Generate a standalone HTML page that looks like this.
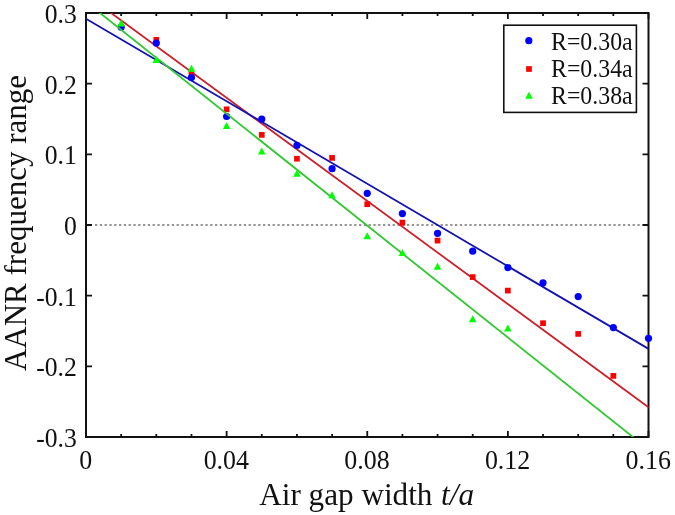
<!DOCTYPE html><html><head><meta charset="utf-8"><style>
html,body{margin:0;padding:0;background:#fff;}
body{width:675px;height:515px;overflow:hidden;}
svg{display:block;font-family:"Liberation Serif",serif;will-change:transform;}
</style></head><body>
<svg width="675" height="515" viewBox="0 0 675 515">
<rect x="0" y="0" width="675" height="515" fill="#fff"/>
<line x1="95.0" y1="225.00" x2="642.5" y2="225.00" stroke="#707070" stroke-width="1.6" stroke-dasharray="2.3 2.5"/>
<path d="M86.00 437.00v-6M86.00 13.00v6M121.16 437.00v-3M121.16 13.00v3M156.31 437.00v-3M156.31 13.00v3M191.47 437.00v-3M191.47 13.00v3M226.62 437.00v-6M226.62 13.00v6M261.78 437.00v-3M261.78 13.00v3M296.94 437.00v-3M296.94 13.00v3M332.09 437.00v-3M332.09 13.00v3M367.25 437.00v-6M367.25 13.00v6M402.41 437.00v-3M402.41 13.00v3M437.56 437.00v-3M437.56 13.00v3M472.72 437.00v-3M472.72 13.00v3M507.88 437.00v-6M507.88 13.00v6M543.03 437.00v-3M543.03 13.00v3M578.19 437.00v-3M578.19 13.00v3M613.34 437.00v-3M613.34 13.00v3M648.50 437.00v-6M648.50 13.00v6M86.00 13.00h6M648.50 13.00h-6M86.00 83.67h6M648.50 83.67h-6M86.00 154.33h6M648.50 154.33h-6M86.00 225.00h6M648.50 225.00h-6M86.00 295.67h6M648.50 295.67h-6M86.00 366.33h6M648.50 366.33h-6M86.00 437.00h6M648.50 437.00h-6" stroke="#111" stroke-width="1.8" fill="none"/>
<rect x="86.0" y="13.0" width="562.5" height="424.0" fill="none" stroke="#111" stroke-width="2"/>
<clipPath id="c"><rect x="86.0" y="13.0" width="562.5" height="424.0"/></clipPath>
<line clip-path="url(#c)" x1="109.74" y1="12" x2="649.8" y2="408.25" stroke="#cc1e28" stroke-width="1.75"/>
<rect x="153.46" y="36.95" width="5.7" height="5.7" fill="#ff0000"/>
<rect x="188.62" y="71.65" width="5.7" height="5.7" fill="#ff0000"/>
<rect x="223.78" y="106.45" width="5.7" height="5.7" fill="#ff0000"/>
<rect x="258.93" y="132.05" width="5.7" height="5.7" fill="#ff0000"/>
<rect x="294.09" y="155.85" width="5.7" height="5.7" fill="#ff0000"/>
<rect x="329.24" y="155.05" width="5.7" height="5.7" fill="#ff0000"/>
<rect x="364.40" y="201.35" width="5.7" height="5.7" fill="#ff0000"/>
<rect x="399.56" y="219.75" width="5.7" height="5.7" fill="#ff0000"/>
<rect x="434.71" y="237.75" width="5.7" height="5.7" fill="#ff0000"/>
<rect x="469.87" y="274.25" width="5.7" height="5.7" fill="#ff0000"/>
<rect x="505.02" y="287.75" width="5.7" height="5.7" fill="#ff0000"/>
<rect x="540.18" y="320.35" width="5.7" height="5.7" fill="#ff0000"/>
<rect x="575.34" y="331.05" width="5.7" height="5.7" fill="#ff0000"/>
<rect x="610.49" y="373.05" width="5.7" height="5.7" fill="#ff0000"/>
<line clip-path="url(#c)" x1="84" y1="17.51" x2="650" y2="349.72" stroke="#1212b0" stroke-width="1.75"/>
<circle cx="121.16" cy="27.20" r="3.6" fill="#0000ff"/>
<circle cx="156.31" cy="43.10" r="3.6" fill="#0000ff"/>
<circle cx="191.47" cy="77.50" r="3.6" fill="#0000ff"/>
<circle cx="226.62" cy="116.50" r="3.6" fill="#0000ff"/>
<circle cx="261.78" cy="119.10" r="3.6" fill="#0000ff"/>
<circle cx="296.94" cy="145.40" r="3.6" fill="#0000ff"/>
<circle cx="332.09" cy="168.70" r="3.6" fill="#0000ff"/>
<circle cx="367.25" cy="193.30" r="3.6" fill="#0000ff"/>
<circle cx="402.41" cy="213.60" r="3.6" fill="#0000ff"/>
<circle cx="437.56" cy="233.30" r="3.6" fill="#0000ff"/>
<circle cx="472.72" cy="251.20" r="3.6" fill="#0000ff"/>
<circle cx="507.88" cy="267.60" r="3.6" fill="#0000ff"/>
<circle cx="543.03" cy="282.80" r="3.6" fill="#0000ff"/>
<circle cx="578.19" cy="296.60" r="3.6" fill="#0000ff"/>
<circle cx="613.34" cy="327.60" r="3.6" fill="#0000ff"/>
<circle cx="648.50" cy="338.30" r="3.6" fill="#0000ff"/>
<line clip-path="url(#c)" x1="98.75" y1="12" x2="634.2" y2="438" stroke="#30c830" stroke-width="1.8"/>
<path d="M121.16 19.50L124.96 26.50L117.36 26.50Z" fill="#00ff00"/>
<path d="M156.31 55.90L160.11 62.90L152.51 62.90Z" fill="#00ff00"/>
<path d="M191.47 64.70L195.27 71.70L187.67 71.70Z" fill="#00ff00"/>
<path d="M226.62 122.10L230.43 129.10L222.82 129.10Z" fill="#00ff00"/>
<path d="M261.78 147.40L265.58 154.40L257.98 154.40Z" fill="#00ff00"/>
<path d="M296.94 169.80L300.74 176.80L293.14 176.80Z" fill="#00ff00"/>
<path d="M332.09 191.20L335.89 198.20L328.29 198.20Z" fill="#00ff00"/>
<path d="M367.25 232.30L371.05 239.30L363.45 239.30Z" fill="#00ff00"/>
<path d="M402.41 249.10L406.21 256.10L398.61 256.10Z" fill="#00ff00"/>
<path d="M437.56 262.70L441.36 269.70L433.76 269.70Z" fill="#00ff00"/>
<path d="M472.72 315.20L476.52 322.20L468.92 322.20Z" fill="#00ff00"/>
<path d="M507.88 324.50L511.68 331.50L504.07 331.50Z" fill="#00ff00"/>
<text transform="translate(76.8,22.90) scale(0.93,1)" font-size="27.6" text-anchor="end" fill="#111">0.3</text>
<text transform="translate(76.8,93.57) scale(0.93,1)" font-size="27.6" text-anchor="end" fill="#111">0.2</text>
<text transform="translate(76.8,164.23) scale(0.93,1)" font-size="27.6" text-anchor="end" fill="#111">0.1</text>
<text transform="translate(76.8,234.90) scale(0.93,1)" font-size="27.6" text-anchor="end" fill="#111">0</text>
<text transform="translate(76.8,305.57) scale(0.93,1)" font-size="27.6" text-anchor="end" fill="#111">-0.1</text>
<text transform="translate(76.8,376.23) scale(0.93,1)" font-size="27.6" text-anchor="end" fill="#111">-0.2</text>
<text transform="translate(76.8,446.90) scale(0.93,1)" font-size="27.6" text-anchor="end" fill="#111">-0.3</text>
<text transform="translate(85.70,469) scale(0.94,1)" font-size="27.6" text-anchor="middle" fill="#111">0</text>
<text transform="translate(226.32,469) scale(0.94,1)" font-size="27.6" text-anchor="middle" fill="#111">0.04</text>
<text transform="translate(366.95,469) scale(0.94,1)" font-size="27.6" text-anchor="middle" fill="#111">0.08</text>
<text transform="translate(507.57,469) scale(0.94,1)" font-size="27.6" text-anchor="middle" fill="#111">0.12</text>
<text transform="translate(648.20,469) scale(0.94,1)" font-size="27.6" text-anchor="middle" fill="#111">0.16</text>
<text x="366.6" y="504.5" font-size="31.2" text-anchor="middle" fill="#111">Air gap width <tspan dx="0.8" font-style="italic">t/a</tspan></text>
<text transform="translate(26,223) rotate(-90)" x="0" y="0" font-size="31" text-anchor="middle" fill="#111">AANR frequency range</text>
<rect x="503.8" y="25.2" width="132.6" height="87.2" fill="#fff" stroke="#111" stroke-width="1.6"/>
<circle cx="528.80" cy="40.70" r="3.6" fill="#0000ff"/>
<rect x="526.15" y="66.15" width="5.7" height="5.7" fill="#ff0000"/>
<path d="M529.00 91.70L532.80 98.70L525.20 98.70Z" fill="#00ff00"/>
<text transform="translate(551,49.60) scale(0.94,1)" font-size="25.4" fill="#111">R=0.30a</text>
<text transform="translate(551,76.80) scale(0.94,1)" font-size="25.4" fill="#111">R=0.34a</text>
<text transform="translate(551,104.00) scale(0.94,1)" font-size="25.4" fill="#111">R=0.38a</text>
</svg></body></html>
